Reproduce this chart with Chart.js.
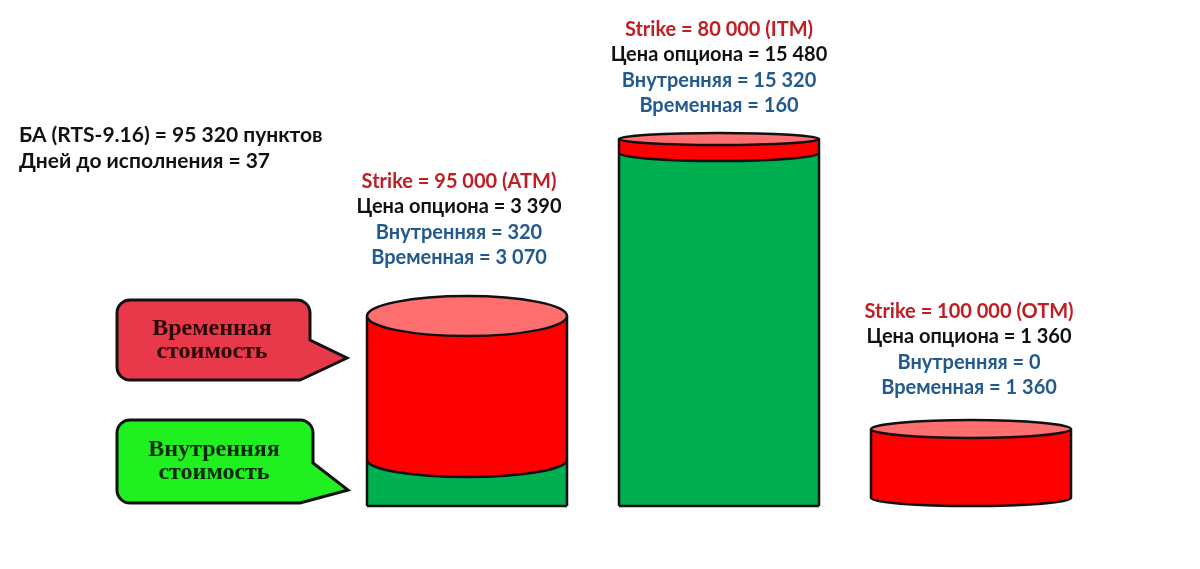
<!DOCTYPE html>
<html>
<head>
<meta charset="utf-8">
<script src="https://cdn.jsdelivr.net/npm/chart.js@4/dist/chart.umd.min.js"></script>
<style>
  html, body { margin: 0; padding: 0; background: #ffffff; }
  #wrap { width: 1200px; height: 569px; position: relative; }
</style>
</head>
<body>
<div id="wrap"><canvas id="c"></canvas></div>
<script>
// ---- Data ----
const categories   = ['ATM', 'ITM', 'OTM'];
const strikes      = [95000, 80000, 100000];
const optionPrice  = [3390, 15480, 1360];
const intrinsic    = [320, 15320, 0];
const timeValue    = [3070, 160, 1360];
// The cylinders in the picture are illustrative (not to scale);
// their drawn heights, in picture units:
const intrinsicBarHeight = [46, 353, 0];
const timeBarHeight      = [144, 14, 77];
const underlyingText = 'БА (RTS-9.16) = 95 320 пунктов';
const daysText       = 'Дней до исполнения = 37';
const calloutTime      = ['Временная', 'стоимость'];
const calloutIntrinsic = ['Внутренняя', 'стоимость'];

// ---- Styles ----
const capRy    = [20, 6, 9];    // ellipse half-height of the cylinder tops
const joinRy   = [17, 8, 8];    // ellipse half-height of the lower edges
const labelGap = [38, 27, 32];  // gap between cap top and last label line
const labelDx  = [-8, 0, -2];
const GREEN = '#00B050', RED = '#FF0000', CAP = '#FF6F6F';
const LABEL_FONT = 'bold 20px Lato, "Open Sans", sans-serif';

const fmt = n => String(n).replace(/\B(?=(\d{3})+(?!\d))/g, ' ');

function calloutPath(ctx, x, y, w, h, r, tailY, tipX, tipY, endX) {
  ctx.beginPath();
  ctx.moveTo(x + r, y);
  ctx.lineTo(x + w - r, y);
  ctx.arcTo(x + w, y, x + w, y + r, r);
  ctx.lineTo(x + w, tailY);
  ctx.lineTo(tipX, tipY);
  ctx.lineTo(endX, y + h);
  ctx.lineTo(x + r, y + h);
  ctx.arcTo(x, y + h, x, y + h - r, r);
  ctx.lineTo(x, y + r);
  ctx.arcTo(x, y, x + r, y, r);
  ctx.closePath();
}

const decorPlugin = {
  id: 'decor',
  beforeDraw(chart) {
    const ctx = chart.ctx;
    ctx.save();
    ctx.fillStyle = '#ffffff';
    ctx.fillRect(0, 0, chart.width, chart.height);
    ctx.fillStyle = '#f1f1f1';
    for (let y = 3; y < chart.height; y += 8) {
      for (let x = 3; x < chart.width; x += 8) ctx.fillRect(x, y, 1, 1);
    }
    // top-left info text
    ctx.fillStyle = '#111111';
    ctx.font = 'bold 21px Lato, "Open Sans", sans-serif';
    ctx.textAlign = 'left';
    ctx.textBaseline = 'middle';
    ctx.fillText(underlyingText, 19, 135);
    ctx.fillText(daysText, 19, 161);

    // callouts
    ctx.lineWidth = 3;
    ctx.strokeStyle = '#111111';
    calloutPath(ctx, 117, 300, 193, 80, 13, 340, 347, 358, 300);
    ctx.fillStyle = '#E8394A';
    ctx.fill(); ctx.stroke();
    calloutPath(ctx, 117, 420, 196, 83, 13, 463, 348, 490, 300);
    ctx.fillStyle = '#20F020';
    ctx.fill(); ctx.stroke();

    ctx.font = 'bold 24px "Liberation Serif", "Times New Roman", serif';
    ctx.textAlign = 'center';
    ctx.fillStyle = '#2a0606';
    ctx.fillText(calloutTime[0], 212, 329);
    ctx.fillText(calloutTime[1], 212, 352);
    ctx.fillStyle = '#062a06';
    ctx.fillText(calloutIntrinsic[0], 214, 450);
    ctx.fillText(calloutIntrinsic[1], 214, 473);
    ctx.restore();
  },
  afterDatasetsDraw(chart) {
    const ctx = chart.ctx;
    const g = chart.getDatasetMeta(0).data;
    const r = chart.getDatasetMeta(1).data;
    ctx.save();
    ctx.lineWidth = 2.5;
    ctx.strokeStyle = '#111111';
    ctx.lineJoin = 'round';
    for (let i = 0; i < categories.length; i++) {
      const ge = g[i], re = r[i];
      const cx = re.x, w = re.width, L = cx - w / 2, R = cx + w / 2, rx = w / 2;
      const bottom = ge.base, join = ge.y, top = re.y;
      const rounded = intrinsicBarHeight[i] === 0;
      const jr = joinRy[i], cr = capRy[i];
      const jy = rounded ? join - jr : join;   // centre of the red lower edge
      // green body
      if (!rounded) {
        ctx.fillStyle = GREEN;
        ctx.fillRect(L, join - 2, w, bottom - join + 2);
        ctx.beginPath();
        ctx.moveTo(L, bottom); ctx.lineTo(R, bottom);
        ctx.stroke();
      }
      // red body
      ctx.beginPath();
      ctx.moveTo(L, top);
      ctx.lineTo(L, jy);
      ctx.ellipse(cx, jy, rx, jr, 0, Math.PI, 0, true);
      ctx.lineTo(R, top);
      ctx.closePath();
      ctx.fillStyle = RED;
      ctx.fill();
      ctx.beginPath();
      ctx.ellipse(cx, jy, rx, jr, 0, Math.PI, 0, true);
      ctx.stroke();
      // side outlines
      ctx.beginPath();
      ctx.moveTo(L, top); ctx.lineTo(L, rounded ? jy : bottom);
      ctx.moveTo(R, top); ctx.lineTo(R, rounded ? jy : bottom);
      ctx.stroke();
      // cap
      ctx.beginPath();
      ctx.ellipse(cx, top, rx, cr, 0, 0, Math.PI * 2);
      ctx.fillStyle = CAP;
      ctx.fill(); ctx.stroke();

      // labels
      const last = top - cr - labelGap[i];
      const lines = [
        ['Strike = ' + fmt(strikes[i]) + ' (' + categories[i] + ')', '#BE1E24'],
        ['Цена опциона = ' + fmt(optionPrice[i]), '#111111'],
        ['Внутренняя = ' + fmt(intrinsic[i]), '#235A8E'],
        ['Временная = ' + fmt(timeValue[i]), '#235A8E']
      ];
      ctx.font = LABEL_FONT;
      ctx.textAlign = 'center';
      ctx.textBaseline = 'middle';
      lines.forEach((ln, k) => {
        ctx.fillStyle = ln[1];
        ctx.fillText(ln[0], cx + labelDx[i], last - (3 - k) * 25.5);
      });
    }
    ctx.restore();
  }
};

new Chart(document.getElementById('c'), {
  type: 'bar',
  data: {
    labels: categories,
    datasets: [
      { label: 'Внутренняя стоимость', data: intrinsicBarHeight, backgroundColor: 'rgba(0,0,0,0)', borderWidth: 0 },
      { label: 'Временная стоимость', data: timeBarHeight, backgroundColor: 'rgba(0,0,0,0)', borderWidth: 0 }
    ]
  },
  options: {
    responsive: true,
    maintainAspectRatio: false,
    animation: false,
    layout: { padding: { left: 341, right: 103, top: 6, bottom: 63 } },
    plugins: { legend: { display: false }, tooltip: { enabled: false }, title: { display: false } },
    scales: {
      x: { display: false, stacked: true },
      y: { display: false, stacked: true, min: 0, max: 500 }
    },
    datasets: { bar: { barThickness: 200 } }
  },
  plugins: [decorPlugin]
});
</script>
</body>
</html>
